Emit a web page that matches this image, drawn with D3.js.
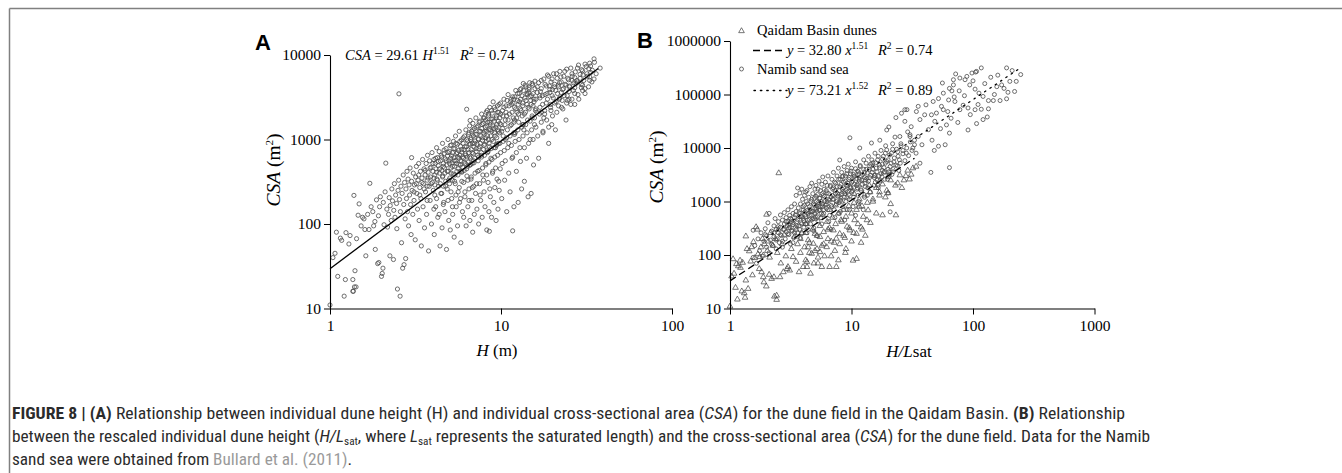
<!DOCTYPE html>
<html><head><meta charset="utf-8">
<script src="https://cdn.jsdelivr.net/npm/d3@7"></script>
<style>body{margin:0;background:#fff}svg{display:block}</style>
</head><body><svg id="c" width="1342" height="473"></svg>
<script>
// ---------- DATA ----------
// Panel A: Qaidam Basin dunes, H (m) vs CSA (m^2)
const qaidamA = [
[1.00,11],[1.04,40],[1.07,45],[1.09,80],[1.11,24],[1.15,68],[1.17,64],[1.21,14],[1.23,22],[1.24,79],[1.29,58],[1.31,73],[1.36,16],[1.36,22],[1.37,16],[1.39,18],[1.40,28],[1.42,18],[1.38,218],[1.43,67],[1.46,127],[1.48,173],[1.52,95],[1.55,120],[1.58,115],[1.60,86],[1.62,42],[1.66,130],[1.69,86],[1.71,303],[1.74,160],[1.78,140],[1.80,95],[1.83,107],[1.84,50],[1.87,193],[1.90,34],[1.92,125],[1.93,35],[1.95,160],[1.97,210],[2.00,24],[2.02,26],[2.04,30],[2.05,180],[2.07,98],[2.10,240],[2.12,525],[2.15,150],[2.17,92],
[2.2,130],[2.22,205],[2.24,42],[2.25,165],[2.28,110],[2.3,260],[2.32,188],[2.35,38],[2.36,145],[2.38,300],[2.4,120],[2.42,220],[2.45,175],[2.46,88],[2.48,17],[2.5,250],[2.52,330],[2.53,3470],[2.55,195],[2.57,14],[2.58,140],[2.6,280],[2.62,60],[2.64,230],[2.66,30],[2.68,380],[2.7,170],[2.71,33],[2.73,310],[2.75,115],[2.77,39],[2.78,260],[2.8,200],[2.82,420],[2.84,140],[2.86,340],[2.88,95],[2.9,290],[2.92,220],[2.94,460],[2.96,170],[2.98,75],[3.0,610],[3.0,320],[3.02,250],[3.05,130],[3.07,400],[3.1,190],[3.12,290],[3.15,65],[3.17,360],[3.2,480],[3.22,230],[3.25,150],[3.27,330],[3.3,520],[3.32,110],[3.35,270],[3.38,420],[3.4,200],[3.42,55],[3.45,350],[3.48,580],[3.5,160],
[3.52,300],[3.55,450],[3.57,90],[3.6,380],[3.62,240],[3.65,520],[3.67,130],[3.7,330],[3.72,650],[3.75,410],[3.77,48],[3.8,280],[3.82,560],[3.85,190],[3.87,360],[3.9,470],[3.92,100],[3.95,700],[3.97,310],[4.0,420],[4.02,250],[4.05,580],[4.07,75],[4.1,380],[4.12,520],[4.15,160],[4.17,450],[4.2,800],[4.22,340],[4.25,610],[4.27,120],[4.3,490],[4.32,280],[4.35,720],[4.37,400],[4.4,55],[4.42,560],[4.45,230],[4.47,650],[4.5,430],[4.52,90],[4.55,900],[4.57,370],[4.6,520],[4.62,180],[4.65,680],[4.67,460],[4.7,140],[4.72,590],[4.75,320],[4.77,780],[4.8,50],[4.82,500],[4.85,260],[4.87,640],[4.9,1000],[4.92,420],[4.95,110],[4.97,560],[5.0,720],[5.02,350],[5.05,85],[5.07,600],[5.1,460],[5.12,860],[5.15,200],[5.17,530],[5.2,700],[5.22,130],[5.25,390],[5.27,950],[5.3,610],[5.32,70],[5.35,480],[5.37,780],[5.4,300],[5.42,1100],[5.45,560],[5.47,160],[5.5,680],[5.52,420],[5.55,880],[5.57,95],[5.6,620],[5.62,240],[5.65,740],[5.67,510],[5.7,1250],[5.72,180],[5.75,650],[5.77,420],[5.8,830],[5.82,60],[5.85,560],[5.87,990],[5.9,320],[5.92,710],[5.95,140],[5.97,470],
[6.0,900],[6.03,600],[6.05,120],[6.08,760],[6.1,430],[6.13,1100],[6.15,210],[6.18,680],[6.2,520],[6.23,1300],[6.25,95],[6.28,820],[6.3,2280],[6.32,370],[6.35,620],[6.38,960],[6.4,160],[6.43,540],[6.45,1150],[6.48,700],[6.5,260],[6.53,880],[6.55,1450],[6.58,110],[6.6,1680],[6.62,600],[6.65,1000],[6.68,340],[6.7,760],[6.73,1250],[6.75,190],[6.78,520],[6.8,900],[6.83,80],[6.85,1550],[6.88,680],[6.9,1100],[6.93,280],[6.95,820],[6.98,130],[7.0,1350],[7.03,600],[7.06,960],[7.1,230],[7.13,1800],[7.16,720],[7.2,1150],[7.23,150],[7.26,880],[7.3,420],[7.33,1450],[7.36,1020],[7.4,100],[7.43,780],[7.46,1250],[7.5,300],[7.53,1650],[7.56,900],[7.6,190],[7.63,1100],[7.66,650],[7.7,2000],[7.73,1350],[7.76,120],[7.8,980],[7.83,380],[7.86,1550],[7.9,760],[7.93,1200],[7.96,240],[8.0,1800],[8.03,880],[8.06,160],[8.1,1400],[8.13,1050],[8.16,520],[8.2,2100],[8.23,1250],[8.26,85],[8.3,2200],[8.33,700],[8.36,1600],[8.4,310],[8.43,1000],[8.46,1900],[8.5,140],[8.53,1300],[8.55,82],[8.56,820],[8.6,2400],[8.63,1500],[8.66,210],[8.7,1100],[8.73,600],[8.76,1750],[8.8,120],[8.84,1250],[8.88,2050],[8.92,400],[8.96,1450],[9.0,2790],[9.04,950],[9.08,180],[9.12,1650],[9.16,1200],[9.2,270],[9.24,2250],[9.28,800],[9.32,1400],[9.36,110],[9.4,1900],[9.44,1050],[9.48,340],[9.52,2500],[9.56,1300],[9.6,150],[9.64,1650],[9.68,900],[9.72,2100],[9.76,250],[9.8,1200],[9.85,1800],[9.9,450],[9.95,2700],
[10.0,1500],[10.1,200],[10.2,2200],[10.3,1100],[10.4,3000],[10.5,330],[10.6,1700],[10.7,2500],[10.8,140],[10.9,1300],[11.0,3400],[11.1,900],[11.2,2000],[11.3,240],[11.4,2800],[11.5,1500],[11.6,600],[11.7,83],[11.7,3200],[11.8,1800],[11.9,160],[12.0,2400],[12.1,1200],[12.2,3800],[12.3,420],[12.4,2100],[12.5,2900],[12.6,180],[12.7,1600],[12.8,3500],[12.9,800],[13.0,2300],[13.1,4000],[13.2,260],[13.3,1900],[13.4,2700],[13.5,4600],[13.6,1300],[13.7,320],[13.8,3100],[13.9,2100],[14.0,4200],[14.1,600],[14.2,2600],[14.3,1700],[14.4,210],[14.5,3600],[14.6,2300],[14.7,4700],[14.8,1000],[14.9,2900],[15.0,230],[15.1,3300],[15.2,1900],[15.3,4400],[15.4,2500],[15.5,500],[15.6,3000],[15.7,1500],[15.8,4900],[15.9,2200],[11.5,2600],[12.6,2600],[13.4,1500],[10.8,1900],[11.9,3000],[14.2,3400],[10.2,1350],[12.0,1700],[13.0,3000],[14.6,3900],
[16.0,3000],[16.3,4200],[16.6,600],[16.9,2400],[17.2,5000],[17.5,3300],[17.8,1800],[18.1,4500],[18.4,2700],[18.7,5800],[19.0,900],[19.3,3600],[19.6,2200],[19.9,5200],[20.2,3100],[20.5,4200],[20.8,1300],[21.1,6000],[21.4,3500],[21.7,2500],[22.0,4700],[22.4,5500],[22.8,2900],[23.2,4000],[23.6,6400],[24.0,1700],[24.4,3300],[24.8,5100],[25.2,4300],[25.6,2600],[26.0,6000],[26.5,3800],[27.0,5400],[27.5,4600],[28.0,7000],[28.5,3000],[29.0,5900],[29.5,4100],[30.0,6500],[30.5,5000],[31.0,3500],[31.5,7300],[32.0,5600],[32.5,4200],[33.0,8000],[33.5,6200],[34.0,4800],[35.0,9000],[35.0,5200],[16.2,2100],[17.0,3700],[18.0,2000],[19.2,4300],[20.0,3900],[21.0,2800],[22.5,3600],[24.0,4400],[26.0,5000],[28.0,4800],[30.0,3800],[17.6,1200],[19.8,1500],[23.0,2300],[25.0,3000],[27.0,2600],[16.8,3300],[18.6,3500],[21.6,4400],
[3.1,240],[3.2,300],[3.3,380],[3.35,220],[3.45,310],[3.55,260],[3.6,430],[3.7,280],[3.75,350],[3.85,460],[3.9,300],[4.0,520],[4.05,350],[4.1,290],[4.15,600],[4.2,410],[4.25,330],[4.3,550],[4.38,450],[4.42,300],[4.5,620],[4.55,360],[4.6,480],[4.65,750],[4.7,400],[4.78,560],[4.85,420],[4.9,700],[4.95,330],[5.0,520],[5.05,850],[5.1,400],[5.15,640],[5.2,480],[5.28,780],[5.33,560],[5.38,380],[5.45,900],[5.5,520],[5.55,700],[5.62,450],[5.68,600],[5.75,950],[5.8,500],[5.88,760],[5.95,620],[6.02,1050],[6.08,540],[6.15,820],[6.22,650],[6.3,1000],[6.37,480],[6.42,760],[6.5,1200],[6.56,620],[6.62,880],[6.7,1050],[6.78,700],[6.85,1300],[6.92,560],[7.0,900],[7.08,1150],[7.15,780],[7.22,1400],[7.3,650],[7.38,1000],[7.45,1600],[7.52,820],[7.6,1250],[7.68,700],[7.75,1500],[7.82,1050],[7.9,1800],[7.98,850],[8.05,1250],[8.12,1700],[8.2,950],[8.28,1450],[8.35,1100],[8.45,2000],[8.52,900],[8.6,1600],[8.7,1300],[8.78,2200],[8.85,1000],[8.95,1750],[9.05,1350],[9.15,2400],[9.25,1100],[9.35,1800],[9.45,1500],[9.55,2100],[9.65,1250],[9.75,2600],[9.85,1550],[9.95,2000],
[10.1,1250],[10.25,1900],[10.4,2400],[10.55,1500],[10.7,2100],[10.85,2900],[11.0,1700],[11.15,2500],[11.3,1450],[11.45,3000],[11.6,2100],[11.75,2700],[11.9,1600],[12.05,3200],[12.2,2300],[12.35,1800],[12.5,3500],[12.65,2000],[12.8,2800],[12.95,3900],[13.1,2200],[13.25,3300],[13.4,2500],[13.55,3800],[13.7,2000],[13.85,4400],[14.0,2900],[14.2,3500],[14.4,2400],[14.6,4100],[14.8,3200],[15.0,2600],[15.2,4600],[15.4,3500],[15.6,2800],[15.8,4000],[16.0,2300],[16.3,3600],[16.6,4700],[16.9,3100],[17.2,4000],[17.5,2600],[17.8,5200],[18.1,3400],[18.4,4300],[18.7,3000],[19.0,5600],[19.3,3900],[19.6,4800],[19.9,3300],[20.3,6000],[20.6,4500],[20.9,3800],[21.3,5300],[21.7,4200],[22.1,6400],[22.5,4800],[22.9,3900],[23.3,5600],[23.7,4500],[24.2,6800],[24.6,5300],[25.1,4200],[25.6,7000],[26.1,5600],[26.6,4700],[27.2,6300],[27.8,5000],[28.4,7600],[29.0,5300],[29.6,6700],[30.2,5800],[31.0,7800],[31.8,6000],[32.6,6900],[33.4,7400],[34.2,6600],[35.2,8200],[33.0,5500],[30.0,4400],[27.0,3500],[24.5,2900],[22.0,3100],[19.5,2600],[17.2,2100],[15.2,1800],[13.5,1500],[12.0,1150],[10.6,1000],[9.4,850],[8.3,750],[7.4,620],[6.6,500],[5.9,420],[5.2,330],[4.6,280],[4.1,220],[3.7,190],
[4.05,150],[4.2,200],[4.35,130],[4.5,230],[4.6,170],[4.75,280],[4.9,190],[5.0,300],[5.1,240],[5.2,160],[5.35,320],[5.45,220],[5.6,380],[5.7,270],[5.8,200],[5.9,410],[6.05,310],[6.15,240],[6.3,450],[6.4,330],[6.5,190],[6.6,500],[6.7,360],[6.8,270],[6.95,530],[7.05,400],[7.2,300],[7.35,560],[7.45,430],[7.55,220],[7.7,620],[7.8,460],[7.9,330],[8.0,650],[8.15,500],[8.25,380],[8.4,720],[8.5,540],[8.6,260],[8.75,780],[8.85,580],[8.95,420],[9.1,800],[9.2,620],[9.3,460],[9.45,880],[9.55,650],[9.7,320],[9.85,900],[9.95,700],[10.15,520],[10.3,950],[10.45,740],[10.6,560],[10.8,1050],[10.95,800],[11.1,400],[11.3,1100],[11.5,850],[11.7,620],[11.9,1200],[12.1,950],[12.3,700],[12.55,1300],[12.75,1000],[13.0,550],[13.2,1400],[13.45,1100],[13.7,800],[13.95,1500],[14.2,1200],[14.5,900],[14.8,1650],[15.1,1300],[15.4,1000],[15.7,1800],[16.0,1400],[16.4,1100],[16.8,2000],[17.2,1600],[17.6,1250],[18.0,2200],[18.5,1700],[19.0,1400],[19.5,2400],[20.0,1900],[20.6,2700],[21.2,2100],[21.9,3000],[22.6,2400],[23.4,3300],[24.2,2700],[25.0,3700],[26.0,3000],[27.0,4100],[28.2,3400],[29.5,4500],[31,4000],[33,5000],[36,6000],[38,7000]
];
// Panel B: Qaidam Basin dunes, H/Lsat vs CSA (triangles)
const qaidamB = [
[1.0,11],[1.03,40],[1.06,84],[1.08,45],[1.11,24.5],[1.13,68],[1.15,14.8],[1.17,62],[1.21,79],[1.22,58],[1.25,21],[1.27,72],[1.31,19.4],[1.33,16],[1.35,33.6],[1.35,224],[1.38,130],[1.41,23.4],[1.44,118],[1.48,76],[1.51,141],[1.53,42],[1.56,176],[1.6,88],[1.64,333],[1.68,300],[1.7,104],[1.74,55],[1.76,92],[1.8,140],[1.82,48],[1.85,200],[1.88,38.7],[1.88,99],[1.9,31],[1.92,160],[1.95,240],[1.99,26],[2.0,570],[2.03,120],[2.07,180],[2.1,43],[2.12,90],[2.16,260],[2.2,36],[2.25,150],[2.3,38.7],[2.32,16.8],[2.36,200],[2.42,17.5],[2.42,14.6],[2.45,110],[2.5,300],[2.52,3400],[2.58,38.7],[2.62,70],[2.68,160],[2.75,48],[2.8,240],[2.88,95],[2.95,55],[3.0,60],[3.05,320],[3.1,51.7],[3.2,130],[3.3,92],[3.4,220],[3.5,75],[3.6,160],[3.7,48],[3.8,110],[3.9,260],[4.0,60],[4.1,140],[4.2,80],[4.3,74],[4.3,60],[4.4,190],[4.5,110],[4.6,45],[4.7,106],[4.85,163],[4.9,70],[5.0,250],[5.2,130],[5.3,90],[5.5,218],[5.5,114],[5.7,60],[5.9,160],[6.0,95],[6.25,141],[6.4,300],[6.6,60],[6.8,180],[7.1,290],[7.3,120],[7.5,203],[7.8,80],[8.0,160],[8.3,420],[8.6,230],[8.9,110],[9.2,340],[9.7,290],[10.0,180],[10.3,79],[10.6,450],[11.0,250],[11.0,85],[11.6,800],[12.0,330],[12.5,520],[13.0,230],[13.7,690],[14.3,400],[15.0,1000],[16.0,600],[17.0,1500],[18.0,555],[19.0,1200],[20.0,1440],[21.0,900],[23.2,555],[24.0,2200],[26.0,1800],[28.0,3000],[30.0,2600],[32.0,4200],
[3.2,450],[3.5,300],[3.9,520],[4.2,380],[4.6,650],[5.0,480],[5.4,800],[5.8,560],[6.2,900],[6.6,700],[7.0,1100],[7.4,850],[7.8,1300],[8.2,1000],[8.7,1500],[9.2,1200],[9.8,1800],[10.5,1400],[11.2,2100],[12.0,1700],[13.0,2500],[14.0,2000],[15.5,3000],[17.0,2400],[18.5,3500],[20.0,2900],[22.0,4000],
[3.8,200],[4.2,260],[4.5,170],[4.8,300],[5.2,230],[5.5,350],[5.9,270],[6.3,420],[6.6,320],[7.0,500],[7.4,380],[7.8,600],[8.2,450],[8.6,700],[9.0,520],[9.5,820],[10.0,600],[10.5,950],[11.0,700],[11.6,1100],[12.2,820],[12.8,1300],[13.5,950],[14.2,1500],[15.0,1100],[16.0,1800],[17.0,1300],[18.0,2100],[19.5,1600],[21,2500],[23,2000],[25,3100],[27,2500],[29,3800],[31,3200],[34,4500],[4.4,140],[5.0,120],[5.7,150],[6.4,200],[7.2,170],[8.0,250],[8.8,210],[9.6,320],[10.4,260],[11.3,380],[12.3,300],[13.4,450],[6.8,95],[9.0,130],[12.0,170],[5.3,70],[7.5,60]
];
// Panel B: Namib sand sea (circles)
const namibB = [
[1.55,90],[1.55,290],[1.6,150],[1.65,70],[1.7,200],[1.75,120],[1.8,260],[1.85,95],[1.9,180],[1.95,310],[2.0,140],[2.0,230],[2.05,400],[2.1,110],[2.1,600],[2.15,190],[2.2,280],[2.25,150],[2.3,350],[2.3,220],[2.35,480],[2.4,130],[2.4,300],[2.45,200],[2.5,420],[2.5,260],[2.55,170],[2.6,560],[2.6,330],[2.65,230],[2.7,450],[2.7,140],[2.75,300],[2.8,620],[2.8,380],[2.85,200],[2.9,500],[2.9,270],[2.95,350],[3.0,700],[3.0,430],
[3.05,240],[3.1,550],[3.1,330],[3.15,160],[3.2,800],[3.2,420],[3.25,280],[3.3,600],[3.3,370],[3.35,210],[3.4,900],[3.4,500],[3.45,330],[3.5,650],[3.5,1300],[3.55,420],[3.6,260],[3.6,1790],[3.65,760],[3.7,520],[3.7,350],[3.76,1440],[3.8,900],[3.8,600],[3.85,400],[3.9,250],[3.95,1100],[4.0,700],[4.0,480],[4.05,330],[4.1,1300],[4.1,850],[4.15,560],[4.2,380],[4.25,1000],[4.3,680],[4.3,1600],[4.35,450],[4.4,300],[4.45,1200],[4.5,800],[4.5,550],[4.55,1900],[4.6,380],[4.65,1000],[4.7,2200],[4.7,650],[4.75,460],[4.8,1400],[4.85,900],[4.9,280],[4.95,1150],[5.0,750],[5.0,1700],[5.05,520],[5.1,2000],[5.15,1000],[5.2,650],[5.25,1350],[5.3,430],[5.35,880],[5.4,2400],[5.45,1150],[5.5,700],[5.55,1600],[5.6,500],[5.65,1000],[5.7,2100],[5.75,800],[5.8,2870],[5.85,1300],[5.9,600],[5.95,1700],
[6.0,1000],[6.1,2300],[6.2,750],[6.3,1450],[6.4,3000],[6.5,1100],[6.6,550],[6.7,1900],[6.8,850],[6.9,2600],[7.0,1300],[7.1,3500],[7.2,700],[7.3,1600],[7.4,2200],[7.5,1000],[7.6,3000],[7.7,1400],[7.8,4200],[7.9,600],[8.0,5970],[8.0,1900],[8.1,2600],[8.2,1150],[8.3,3500],[8.4,1700],[8.5,800],[8.6,2300],[8.7,4500],[8.8,1400],[8.9,3000],[9.0,1000],[9.1,2000],[9.2,3800],[9.3,1500],[9.4,5000],[9.5,2600],[9.7,15500],[9.6,700],[9.8,3300],[9.9,1800],[10.0,4200],[10.2,2400],[10.4,1200],[10.6,3000],[10.8,5500],[11.0,2000],[11.2,3700],[11.4,900],[11.7,10000],[11.6,2600],[11.8,4700],[12.0,1600],
[12.3,3200],[12.6,6000],[12.9,2200],[13.2,4000],[13.5,1300],[13.8,7000],[14.1,2800],[14.6,12400],[14.4,5000],[14.8,3500],[15.0,5300],[15.3,2000],[15.6,8000],[16.0,4200],[16.4,6000],[16.8,3000],[17.1,14000],[17.5,9000],[17.9,5000],[18.3,7000],[18.7,3600],[19.1,11000],[19.5,21700],[19.5,9200],[20.3,24700],[20.0,6000],[20.8,4500],[20.8,640],[21.3,8000],[21.8,12000],[22.3,5500],[22.8,16000],[23.2,37000],[23.5,9500],[24.2,7000],[25.0,16400],[25.8,44700],[25.5,12000],[26.5,9000],[27.5,31500],[27.5,52000],[28.3,8000],[28.6,52000],[29.0,20000],[30.3,16400],[30.3,17700],[31.0,25000],[32.0,10000],[33.0,14000],[34.2,48000],[35.4,60000],[35.4,16400],[36.6,34000],[36.6,5200],
[10.1,1500],[10.5,2900],[11.1,1700],[11.5,3300],[12.1,2500],[12.8,3500],[13.4,2700],[14.0,4000],[15.5,3100],[16.3,2500],[17.0,4300],[18.0,3800],[19.0,5200],[20.5,3200],[22.0,3600],[23.8,4600],[25.2,5200],[13.0,1900],[16.6,1800],[19.8,2600],[8.4,2900],[9.3,2200],[7.1,1800],[6.3,2000],[5.3,1700],[4.2,1500],[3.9,1700],[20.0,1440],
[2.2,160],[2.3,260],[2.4,190],[2.5,340],[2.6,240],[2.7,180],[2.8,300],[2.9,420],[3.0,250],[3.05,360],[3.15,480],[3.2,290],[3.3,400],[3.4,260],[3.45,560],[3.55,350],[3.6,460],[3.7,620],[3.75,300],[3.85,520],[3.9,380],[4.0,800],[4.05,440],[4.15,650],[4.2,520],[4.3,380],[4.35,900],[4.4,600],[4.5,460],[4.55,720],[4.65,560],[4.7,1100],[4.8,650],[4.85,480],[4.95,850],[5.0,600],[5.1,1250],[5.15,720],[5.25,520],[5.3,950],[5.4,680],[5.5,1150],[5.55,800],[5.65,600],[5.75,1400],[5.8,900],[5.9,700],[6.0,1250],[6.1,850],[6.2,1600],[6.3,1000],[6.4,700],[6.5,1400],[6.6,1050],[6.7,2000],[6.8,1200],[6.9,800],[7.0,1700],[7.1,1100],[7.25,2300],[7.35,1400],[7.5,900],[7.6,1900],[7.7,1250],[7.85,2600],[7.95,1600],[8.1,1050],[8.2,2100],[8.35,1400],[8.5,3000],[8.6,1800],[8.75,1200],[8.9,2400],[9.0,1600],[9.15,3300],[9.3,2000],[9.45,1350],[9.6,2800],[9.75,1900],[9.9,3700],[10.05,2300],[10.2,1600],[10.4,3200],[10.6,2100],[10.8,4100],[11.0,2700],[11.2,1800],[11.4,3600],[11.6,2400],[11.8,4500],[12.0,3000],[12.3,2100],[12.6,4000],[12.9,2800],[13.2,5200],[13.5,3400],[13.8,2400],[14.1,4600],[14.4,3100],[14.7,6000],[15.0,4000],[15.4,2800],[15.8,5300],[16.2,3600],[16.6,7000],[17.0,4800],[17.5,3300],[18.0,6200],[18.5,4300],[19.0,8000],[19.5,5600],[20.0,4000],[20.6,7400],[21.2,5200],[21.8,9500],[22.5,6500],[23.2,4800],[24.0,8500],[24.8,6000],[25.6,11000],[26.5,7800],[27.5,5800],[28.5,10000],[29.5,7200],[30.5,13000],[31.5,9000],[33,11500],[34,8000],[7.3,500],[8.1,650],[9.2,700],[10.3,800],[11.5,1000],[12.8,1200],[6.5,420],[5.7,380],[4.9,320],[4.3,260],[3.8,210],[3.3,170],[14.3,1500],[16.5,2000],[18.8,2600],[21.5,3200],[24.5,3800],[5.2,230],[6.8,300],[8.8,450],[10.8,550],[12.5,700],[7.9,950],[9.6,1100],[11.3,1300],[13.6,1800],[15.7,2300],[17.8,2900],[20.3,3600],
[38,11500],[40,41700],[41,64000],[45,3500],[45.5,41700],[46,14000],[47,74000],[48.5,31500],[52,10800],[52,84000],[56,164000],[57,52000],[57,106000],[59,11500],[60.5,27000],[63,79000],[64,19000],[64,4300],[64,130000],[67,117000],[69,151000],[69,189000],[71,74000],[72,242000],[77,117000],[78,203000],[78,52000],[83,63000],[86,189000],[89,218000],[91,56000],[91,21700],[94,151000],[98,252000],[104,126000],[104,52000],[105,263000],[107,270000],[107,28600],[112,106000],[117,314000],[117,53000],[121,92000],[121,34000],[131,38000],[134,77000],[134,54000],[147,77000],[157,140000],[167,77000],[172,151000],[189,314000],[189,83000],[194,110000],[201,176000],[220,114000],[227,176000],[247,236000],[50,45000],[54,23000],[66,36000],[75,30000],[85,95000],[95,42000],[100,180000],[110,65000],[125,160000],[140,210000],[150,100000],[160,230000],[180,130000],[210,280000],[43,22000],[48,9000],[55,60000],[62,48000],[70,90000]
];
// Tick labels
const aXTicks = [1, 10, 100];
const aYTicks = [10, 100, 1000, 10000];
const bXTicks = [1, 10, 100, 1000];
const bYTicks = [10, 100, 1000, 10000, 100000, 1000000];
// Fitted power laws (coefficient, exponent, x-extent)
const fitA = {a: 29.61, b: 1.51, from: 1, to: 37};
const fitQ = {a: 32.80, b: 1.51, from: 1, to: 33};
const fitN = {a: 73.21, b: 1.52, from: 2, to: 250};

// ---------- DRAWING ----------
const svg = d3.select('#c');
const SERIF = "'Liberation Serif','Times New Roman',serif";
const SANS = "'Liberation Sans',Arial,sans-serif";
const CAP = "'Liberation Sans Narrow','Roboto Condensed',Roboto,'Liberation Sans',sans-serif";

svg.append('line').attr('x1',9.5).attr('x2',1342).attr('y1',8.5).attr('y2',8.5).attr('stroke','#808080').attr('stroke-width',1.5);
svg.append('line').attr('x1',9.5).attr('x2',9.5).attr('y1',8.5).attr('y2',473).attr('stroke','#808080').attr('stroke-width',1.5);

function minors(lo, hi){ const out=[]; for(let d=lo; d<hi; d*=10) for(let k=2;k<=9;k++) out.push(k*d); return out; }

function drawAxes(g, x, y, xt, yt){
  const fmt = d => String(d);
  const x0 = x.range()[0], yb = y.range()[0];
  const ax = g.append('g').attr('transform',`translate(0,${yb})`);
  ax.call(d3.axisBottom(x).tickValues(minors(x.domain()[0],x.domain()[1])).tickSize(3.5).tickFormat('').tickSizeOuter(0));
  ax.call(d3.axisBottom(x).tickValues(xt).tickSize(6).tickFormat(fmt).tickSizeOuter(0).tickPadding(5));
  const ay = g.append('g').attr('transform',`translate(${x0},0)`);
  ay.call(d3.axisLeft(y).tickValues(minors(y.domain()[0],y.domain()[1])).tickSize(3.5).tickFormat('').tickSizeOuter(0));
  ay.call(d3.axisLeft(y).tickValues(yt).tickSize(6).tickFormat(fmt).tickSizeOuter(0).tickPadding(3));
  g.selectAll('.domain').attr('stroke','#000').attr('stroke-width',1.1);
  g.selectAll('.tick line').attr('stroke','#000');
  g.selectAll('.tick text').attr('font-family',SERIF).attr('font-size',15.5).attr('fill','#000');
}

function fitLine(g, x, y, f, dash){
  const pts = [f.from, f.to].map(v => [x(v), y(f.a*Math.pow(v,f.b))]);
  g.append('path').attr('d', d3.line()(pts)).attr('fill','none').attr('stroke','#000')
   .attr('stroke-width', 1.3).attr('stroke-dasharray', dash || null).attr('stroke-linecap', dash==='1.4,5' ? 'round':'butt');
}

function circles(g, data, x, y, r){
  g.append('g').selectAll('circle').data(data).join('circle')
   .attr('cx', d=>x(d[0])).attr('cy', d=>y(d[1])).attr('r', r)
   .attr('fill','none').attr('stroke','#4a4a4a').attr('stroke-width',0.8);
}
const tri = d3.symbol().type(d3.symbolTriangle).size(14);
function triangles(g, data, x, y){
  g.append('g').selectAll('path').data(data).join('path')
   .attr('transform', d=>`translate(${x(d[0])},${y(d[1])})`).attr('d', tri())
   .attr('fill','none').attr('stroke','#4a4a4a').attr('stroke-width',0.75);
}

// ----- Panel A -----
const xA = d3.scaleLog().domain([1,100]).range([330,672]);
const yA = d3.scaleLog().domain([10,10000]).range([308.5,55]);
const gA = svg.append('g');
circles(gA, qaidamA, xA, yA, 2.1);
fitLine(gA, xA, yA, fitA, null);
drawAxes(gA, xA, yA, aXTicks, aYTicks);

// ----- Panel B -----
const xB = d3.scaleLog().domain([1,1000]).range([730,1094.5]);
const yB = d3.scaleLog().domain([10,1000000]).range([308.5,41]);
const gB = svg.append('g');
triangles(gB, qaidamB, xB, yB);
circles(gB, namibB, xB, yB, 2.0);
fitLine(gB, xB, yB, fitQ, '7,4');
fitLine(gB, xB, yB, fitN, '1.4,5');
drawAxes(gB, xB, yB, bXTicks, bYTicks);

svg.append('text').attr('x',255).attr('y',50).text('A').attr('font-family',SANS).attr('font-weight','bold').attr('font-size',22);
svg.append('text').attr('x',637).attr('y',48).text('B').attr('font-family',SANS).attr('font-weight','bold').attr('font-size',22);

function rich(parent, x, y, parts, opts={}){
  const t = parent.append('text').attr('x',x).attr('y',y).attr('font-family',opts.family||SERIF)
    .attr('font-size',opts.size||15).attr('fill',opts.fill||'#000').style('white-space','pre');
  if(opts.len) t.attr('textLength',opts.len).attr('lengthAdjust','spacingAndGlyphs');
  if(opts.transform) t.attr('transform',opts.transform);
  if(opts.anchor) t.attr('text-anchor',opts.anchor);
  parts.forEach(p=>{
    const s = t.append('tspan').text(p.t);
    if(p.i) s.attr('font-style','italic');
    if(p.b) s.attr('font-weight','bold');
    if(p.size) s.attr('font-size',p.size);
    if(p.dy) s.attr('dy',p.dy);
    if(p.x!=null) s.attr('x',p.x);
    if(p.fill) s.attr('fill',p.fill);
  });
  return t;
}

rich(svg, 345, 60, [{t:'CSA',i:1},{t:' = 29.61 '},{t:'H',i:1},{t:'1.51',size:9.5,dy:-6},
  {t:'R',i:1,x:460,dy:6},{t:'2',size:9.5,dy:-6},{t:' = 0.74',dy:6}], {size:14.5});

gB.append('path').attr('transform','translate(741.5,31)').attr('d',tri()).attr('fill','none').attr('stroke','#4a4a4a').attr('stroke-width',0.75);
rich(svg, 757, 35, [{t:'Qaidam Basin dunes'}], {size:14.5});
gB.append('line').attr('x1',753).attr('x2',785).attr('y1',50.5).attr('y2',50.5).attr('stroke','#000').attr('stroke-width',1.3).attr('stroke-dasharray','7,4');
rich(svg, 787, 55, [{t:'y',i:1},{t:' = 32.80 '},{t:'x',i:1},{t:'1.51',size:9.5,dy:-6},
  {t:'R',i:1,x:878,dy:6},{t:'2',size:9.5,dy:-6},{t:' = 0.74',dy:6}], {size:14.5});
gB.append('circle').attr('cx',741.5).attr('cy',69).attr('r',2).attr('fill','none').attr('stroke','#4a4a4a').attr('stroke-width',0.8);
rich(svg, 757, 74, [{t:'Namib sand sea'}], {size:14.5});
gB.append('line').attr('x1',754).attr('x2',787).attr('y1',90.5).attr('y2',90.5).attr('stroke','#000').attr('stroke-width',1.4).attr('stroke-dasharray','1.4,5').attr('stroke-linecap','round');
rich(svg, 787, 95, [{t:'y',i:1},{t:' = 73.21 '},{t:'x',i:1},{t:'1.52',size:9.5,dy:-6},
  {t:'R',i:1,x:878,dy:6},{t:'2',size:9.5,dy:-6},{t:' = 0.89',dy:6}], {size:14.5});

rich(svg, 497, 356, [{t:'H',i:1},{t:' (m)'}], {size:17, anchor:'middle'});
rich(svg, 909, 357, [{t:'H/L',i:1},{t:'sat'}], {size:17, anchor:'middle'});
rich(svg, 0, 0, [{t:'CSA',i:1},{t:' (m'},{t:'2',size:11,dy:-7},{t:')',dy:7}], {size:19.5, anchor:'middle', transform:'translate(280,170) rotate(-90)'});
rich(svg, 0, 0, [{t:'CSA',i:1},{t:' (m'},{t:'2',size:11,dy:-7},{t:')',dy:7}], {size:19.5, anchor:'middle', transform:'translate(663,167) rotate(-90)'});

const capOpts = {family:CAP, size:17, fill:'#2b2b2b'};
rich(svg, 12, 419, [{t:'FIGURE 8 | (A)',b:1},{t:' Relationship between individual dune height (H) and individual cross-sectional area ('},{t:'CSA',i:1},{t:') for the dune field in the Qaidam Basin. '},{t:'(B)',b:1},{t:' Relationship'}], Object.assign({len:1113},capOpts));
rich(svg, 12, 442, [{t:'between the rescaled individual dune height ('},{t:'H/L',i:1},{t:'sat',size:11,dy:3},{t:', where ',dy:-3},{t:'L',i:1},{t:'sat',size:11,dy:3},{t:' represents the saturated length) and the cross-sectional area (',dy:-3},{t:'CSA',i:1},{t:') for the dune field. Data for the Namib'}], Object.assign({len:1138},capOpts));
rich(svg, 12, 465, [{t:'sand sea were obtained from '},{t:'Bullard et al. (2011)',fill:'#9a9a9a'},{t:'.'}], Object.assign({len:340},capOpts));
</script></body></html>
